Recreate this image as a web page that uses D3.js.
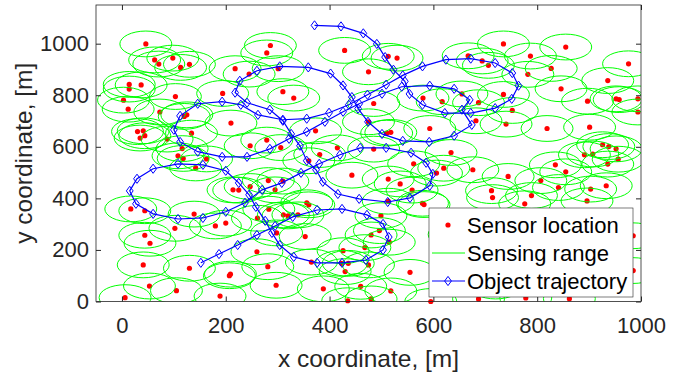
<!DOCTYPE html>
<html>
<head>
<meta charset="utf-8">
<script src="https://cdn.jsdelivr.net/npm/d3@7"></script>
<style>
  body { margin: 0; background: #fff; }
  text { font-family: "Liberation Sans", Arial, sans-serif; }
</style>
</head>
<body>
<div id="chart"></div>
<script>
// sensor positions [m]
const sensorX = [46,63,71,98,113,130,14,14,37,3,103,194,218,245,286,279,301,
  429,513,530,475,310,331,485,580,617,
  735,855,787,667,694,706,827,782,976,936,846,735,655,687,897,952,958,994,
  12,73,125,120,210,30,41,44,35,134,87,247,279,116,108,118,163,142,282,247,214,225,295,
  373,475,518,510,593,306,415,381,485,634,360,562,620,606,443,513,536,559,310,356,513,579,
  994,752,682,740,819,901,926,938,952,891,907,956,936,835,855,676,744,807,712,714,841,903,933,789,896,776,
  17,44,102,139,180,200,44,54,41,130,209,207,53,105,6,189,261,283,260,281,297,298,
  311,320,339,360,353,499,582,496,480,515,426,468,365,423,436,430,475,555,388,460,518,435,480,595,
  687,778,862,
  660,760,870,985,985,720,930,800,640];
const sensorY = [999,937,921,944,908,920,842,824,840,781,795,807,903,882,993,964,903,
  974,951,944,891,814,789,768,789,775,
  999,987,952,953,933,916,904,881,922,857,825,803,805,771,777,786,783,786,
  746,735,724,718,692,659,662,643,634,653,630,604,626,593,565,555,553,518,469,446,433,432,433,
  662,697,656,653,671,597,596,570,591,578,546,534,517,498,490,475,456,432,467,383,389,381,
  735,741,701,688,671,676,608,601,592,569,572,552,533,530,503,511,485,469,430,403,442,436,449,411,390,379,
  359,352,284,339,293,304,257,226,142,129,106,100,60,42,15,21,323,358,193,135,63,266,
  336,332,336,375,252,333,376,275,258,230,197,209,153,148,148,116,142,113,49,59,41,3,10,0,
  10,14,11,
  150,220,170,255,120,60,70,290,260];

// object trajectory [m]
const trajX = [371,422,465,491,507,523,545,554,579,622,672,719,751,764,752,719,672,624,579,541,
  509,473,437,399,356,310,262,229,193,146,112,100,112,146,193,241,285,322,356,391,
  426,457,501,539,593,640,670,655,674,640,592,541,501,474,455,443,426,402,359,304,
  260,227,218,241,285,310,326,343,356,374,387,416,457,512,555,593,599,586,557,509,
  459,420,380,345,308,270,237,200,156,108,60,27,15,29,60,108,156,200,225,245,
  258,276,289,304,331,376,424,470,503,514,503,472,424,376,329,295,260,223,187,152];
const trajY = [1071,1067,1040,999,948,899,854,805,763,731,731,750,786,837,886,925,942,938,912,877,
  841,802,763,732,709,705,724,763,775,767,720,666,619,581,561,561,592,631,658,697,
  736,767,806,833,837,825,782,744,685,643,619,623,650,697,748,793,838,884,908,912,
  895,856,810,771,744,701,650,604,546,511,464,417,398,386,402,449,495,538,577,596,
  596,569,534,499,460,433,383,348,324,320,340,379,429,476,515,534,530,507,460,414,
  367,313,266,219,173,150,150,161,200,250,301,336,359,355,328,293,258,219,184,150];

const xTicks = [0, 200, 400, 600, 800, 1000];
const yTicks = [0, 200, 400, 600, 800, 1000];
const sensingRange = 50;
const legendLabels = ["Sensor location", "Sensing range", "Object trajectory"];

const width = 689, height = 377;
const margin = {top: 5, right: 48, bottom: 75.5, left: 96};
const axisColor = "#262626";
const fontSize = 22;
const labelSize = 24.5;

const sensors = sensorX.map((d, i) => ({x: d, y: sensorY[i]}));
const traj = trajX.map((d, i) => ({x: d, y: trajY[i]}));

const x = d3.scaleLinear().domain([-50, 1000]).range([margin.left, width - margin.right]);
const y = d3.scaleLinear().domain([0, 1150]).range([height - margin.bottom, margin.top]);

const svg = d3.select("#chart").append("svg")
  .attr("width", width)
  .attr("height", height);

svg.append("clipPath").attr("id", "plotClip")
  .append("rect")
  .attr("x", x(-50)).attr("y", y(1150))
  .attr("width", x(1000) - x(-50)).attr("height", y(0) - y(1150));

// red sensor dots
svg.append("g").selectAll("circle")
  .data(sensors)
  .enter().append("circle")
  .attr("cx", d => x(d.x))
  .attr("cy", d => y(d.y))
  .attr("r", 2.6)
  .attr("fill", "#ff0000");

// sensing ranges
const rx = x(sensingRange) - x(0);
const ry = y(0) - y(sensingRange);

svg.append("g").attr("clip-path", "url(#plotClip)")
  .selectAll("ellipse")
  .data(sensors)
  .enter().append("ellipse")
  .attr("cx", d => x(d.x))
  .attr("cy", d => y(d.y))
  .attr("rx", rx)
  .attr("ry", ry)
  .attr("fill", "none")
  .attr("stroke", "#00ff00")
  .attr("stroke-width", 1);

// trajectory
const line = d3.line().x(d => x(d.x)).y(d => y(d.y));
const diamond = "M0,-4.6L3.4,0L0,4.6L-3.4,0Z";

svg.append("path")
  .datum(traj)
  .attr("d", line)
  .attr("fill", "none")
  .attr("stroke", "#0000ff")
  .attr("stroke-width", 1.2);

svg.append("g").selectAll("path")
  .data(traj)
  .enter().append("path")
  .attr("d", diamond)
  .attr("transform", d => `translate(${x(d.x)},${y(d.y)})`)
  .attr("fill", "none")
  .attr("stroke", "#0000ff")
  .attr("stroke-width", 1);

// axes
const styleAxis = g => {
  g.select(".domain").remove();
  g.selectAll("line").attr("stroke", axisColor);
  g.selectAll("text")
    .attr("fill", axisColor)
    .style("font-size", fontSize + "px")
    .style("font-family", '"Liberation Sans", Arial, sans-serif');
};

svg.append("g")
  .attr("transform", `translate(0,${y(0)})`)
  .call(d3.axisBottom(x).tickValues(xTicks).tickSize(-5).tickPadding(16).tickFormat(d3.format("d")))
  .call(styleAxis);

svg.append("g")
  .attr("transform", `translate(0,${y(1150)})`)
  .call(d3.axisTop(x).tickValues(xTicks).tickSize(-5).tickFormat(""))
  .call(styleAxis);

svg.append("g")
  .attr("transform", `translate(${x(-50)},0)`)
  .call(d3.axisLeft(y).tickValues(yTicks).tickSize(-5).tickPadding(7).tickFormat(d3.format("d")))
  .call(styleAxis);

svg.append("g")
  .attr("transform", `translate(${x(1000)},0)`)
  .call(d3.axisRight(y).tickValues(yTicks).tickSize(-5).tickFormat(""))
  .call(styleAxis);

svg.append("rect")
  .attr("x", x(-50)).attr("y", y(1150))
  .attr("width", x(1000) - x(-50)).attr("height", y(0) - y(1150))
  .attr("fill", "none")
  .attr("stroke", axisColor)
  .attr("stroke-width", 0.8);

svg.append("text")
  .attr("x", (x(-50) + x(1000)) / 2)
  .attr("y", 367)
  .attr("text-anchor", "middle")
  .attr("fill", axisColor)
  .style("font-size", labelSize + "px")
  .text("x coordinate, [m]");

svg.append("text")
  .attr("transform", `translate(32,${(y(0) + y(1150)) / 2}) rotate(-90)`)
  .attr("text-anchor", "middle")
  .attr("fill", axisColor)
  .style("font-size", labelSize + "px")
  .text("y coordinate, [m]");

// legend
const legend = svg.append("g").attr("transform", "translate(429,208)");

legend.append("rect")
  .attr("width", 204)
  .attr("height", 89)
  .attr("fill", "#fff")
  .attr("stroke", axisColor)
  .attr("stroke-width", 0.6);

const rows = legend.selectAll(".row")
  .data(legendLabels)
  .enter().append("g")
  .attr("class", "row")
  .attr("transform", (d, i) => `translate(0,${17 + i * 28})`);

rows.append("text")
  .attr("x", 38)
  .attr("dy", "0.35em")
  .attr("fill", "#000")
  .style("font-size", fontSize + "px")
  .text(d => d);

rows.filter((d, i) => i === 0).append("circle")
  .attr("cx", 19).attr("r", 2.6).attr("fill", "#ff0000");

rows.filter((d, i) => i === 1).append("line")
  .attr("x1", 3).attr("x2", 36)
  .attr("stroke", "#00ff00").attr("stroke-width", 1);

const trajRow = rows.filter((d, i) => i === 2);
trajRow.append("line")
  .attr("x1", 3).attr("x2", 36)
  .attr("stroke", "#0000ff").attr("stroke-width", 1.2);
trajRow.append("path")
  .attr("d", diamond)
  .attr("transform", "translate(19,0)")
  .attr("fill", "none")
  .attr("stroke", "#0000ff");
</script>
</body>
</html>
